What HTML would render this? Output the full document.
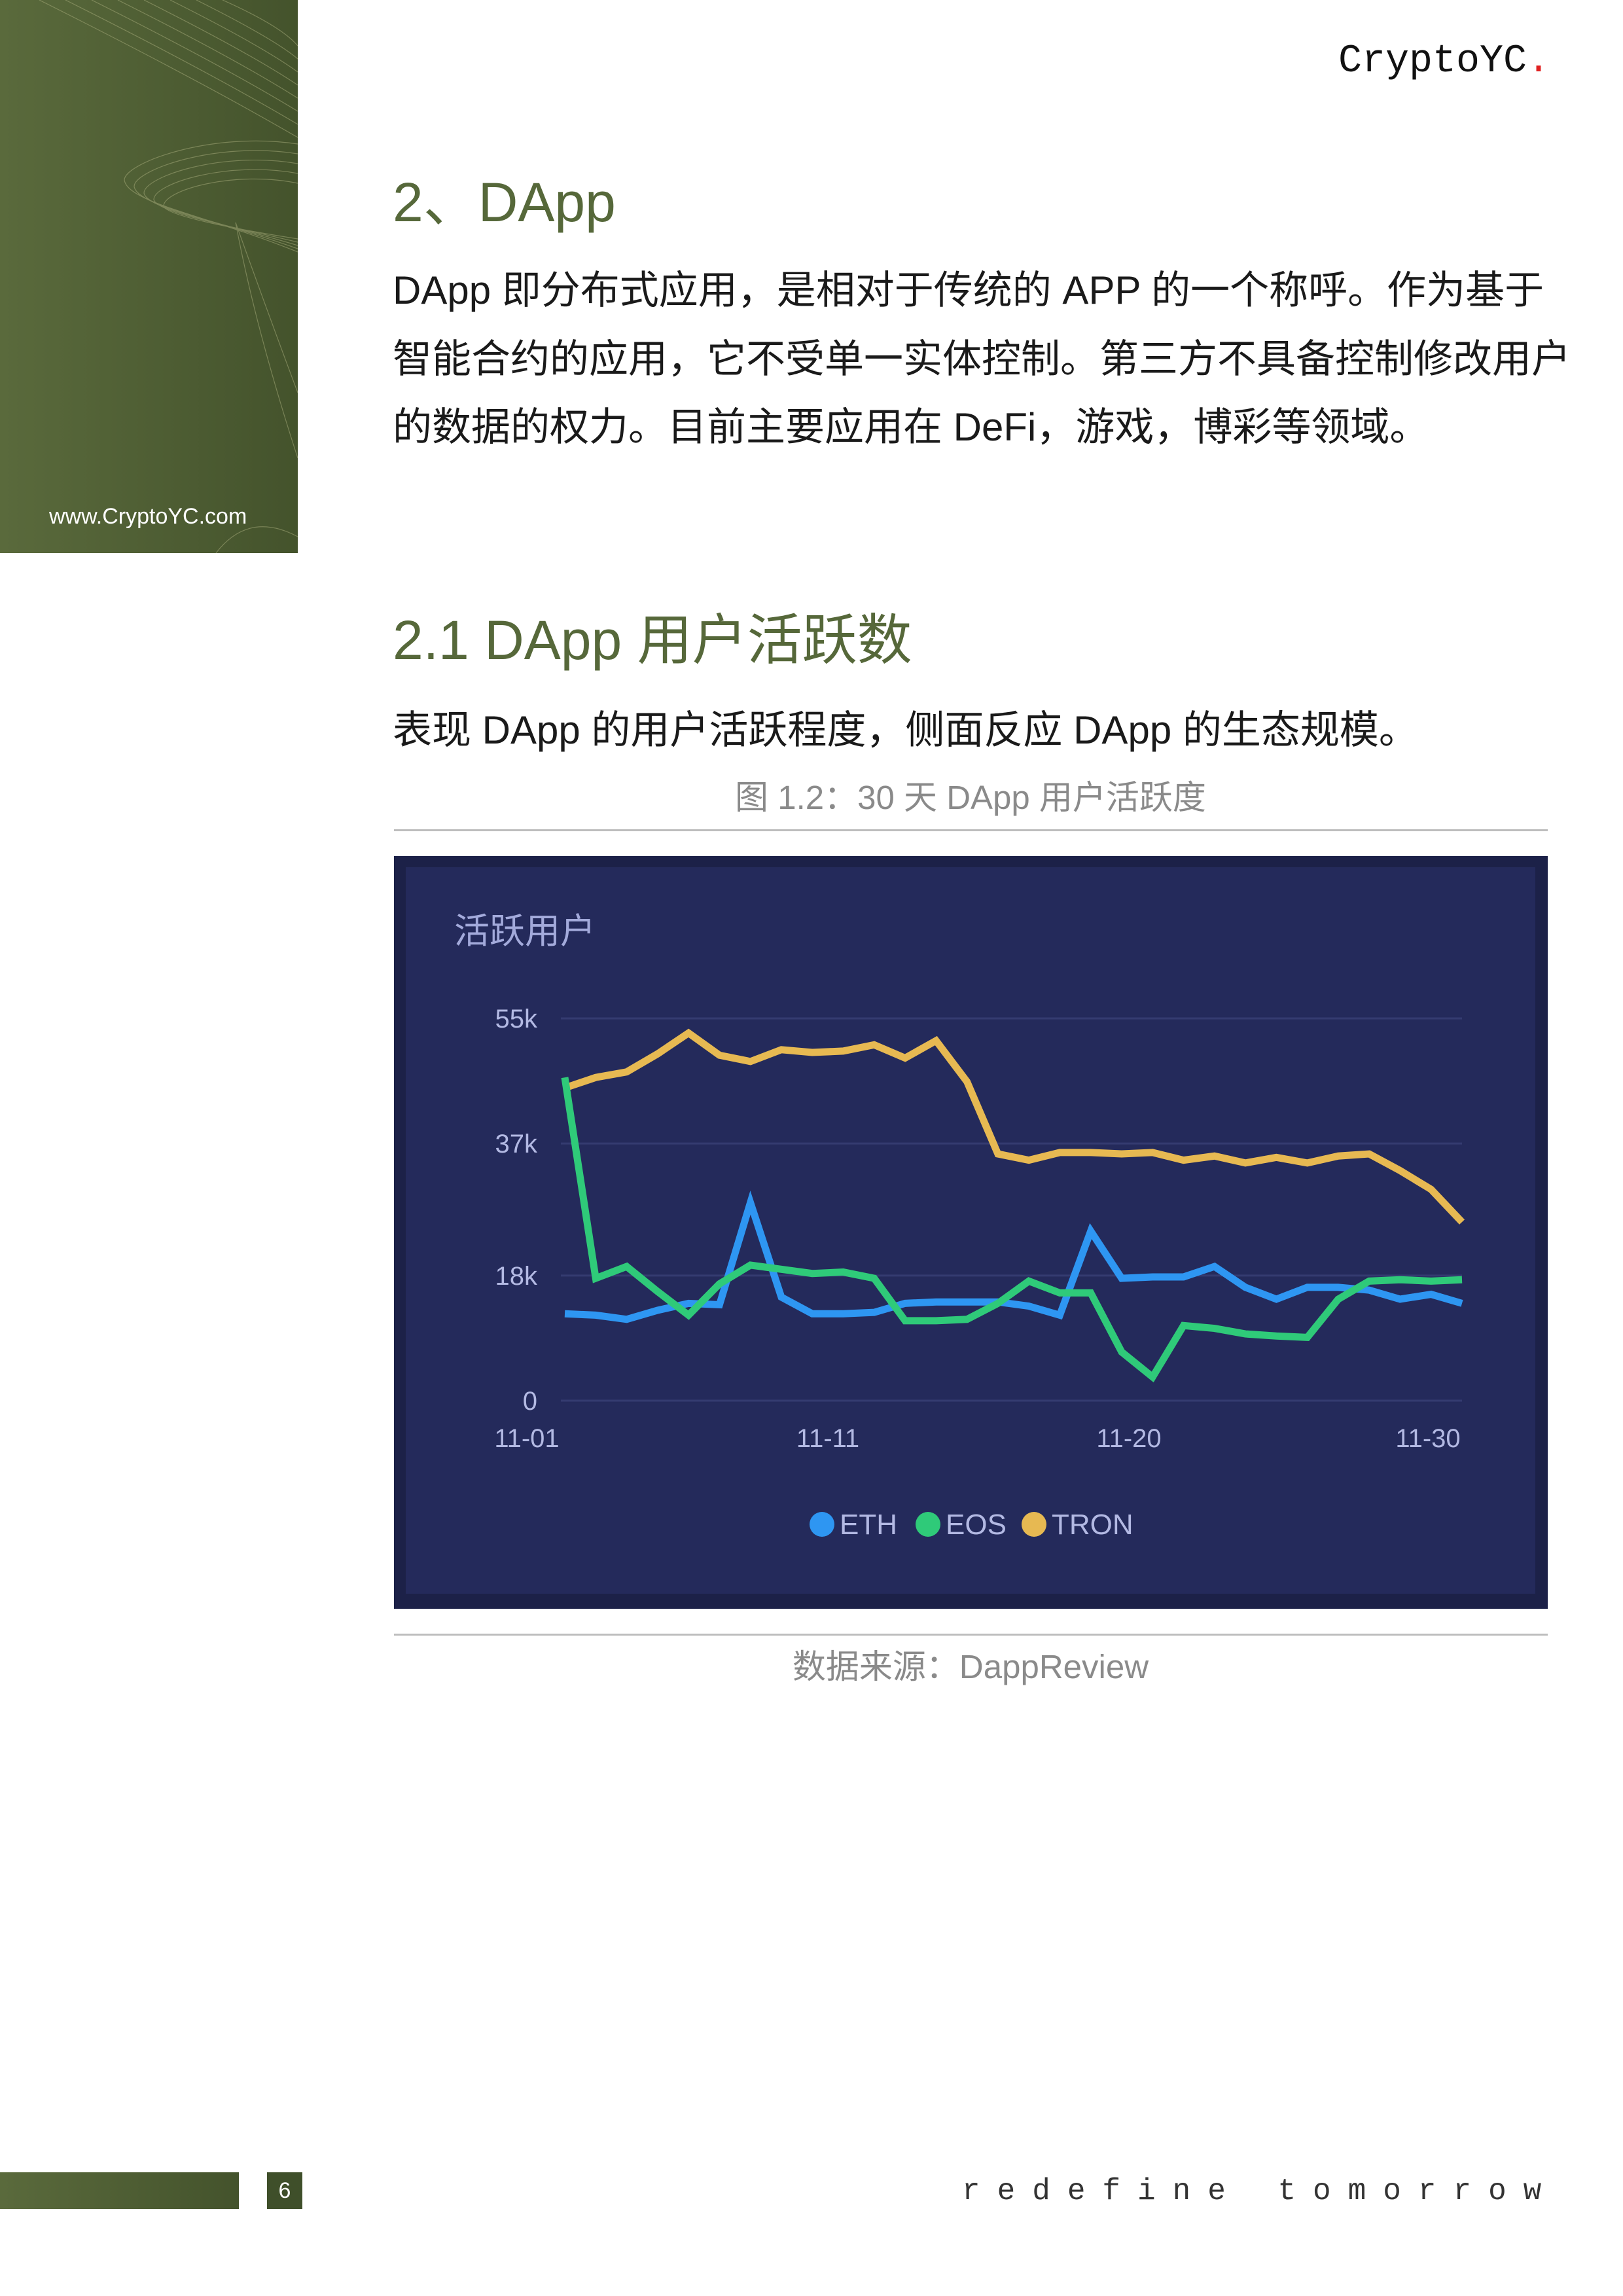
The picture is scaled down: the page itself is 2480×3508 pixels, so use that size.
<!DOCTYPE html>
<html><head><meta charset="utf-8">
<style>
body{margin:0;width:2480px;height:3508px;position:relative;background:#fff;overflow:hidden;font-family:"Liberation Sans","Noto Sans CJK SC",sans-serif}
.a{position:absolute;white-space:nowrap}
.h{color:#56683a;font-size:84px;line-height:1}
.p{color:#1a1a1a;font-size:60px;line-height:1}
</style></head><body>
<div class="a" style="left:0;top:0;width:455px;height:845px;background:linear-gradient(90deg,#5a6a3c,#44532c);overflow:hidden">
<svg width="455" height="845" style="position:absolute;left:0;top:0">
<g fill="none" stroke="#a3a878" stroke-width="1.2" opacity="0.55">
<path d="M60 0 Q300 120 455 210"/><path d="M100 0 Q320 110 455 190"/><path d="M140 0 Q340 100 455 170"/><path d="M180 0 Q360 90 455 150"/><path d="M220 0 Q380 80 455 130"/><path d="M260 0 Q400 70 455 110"/><path d="M300 0 Q420 60 455 90"/><path d="M340 0 Q430 40 455 70"/>
<path d="M455 220 C320 200 190 250 190 275 C195 310 320 330 455 385"/>
<path d="M455 235 C330 215 205 260 205 285 C210 315 330 335 455 380"/>
<path d="M455 250 C340 230 220 270 220 295 C225 320 340 340 455 375"/>
<path d="M455 265 C350 245 235 280 235 305 C240 325 350 345 455 370"/>
<path d="M455 280 C360 260 250 290 250 315 C255 330 360 350 455 365"/>
<path d="M360 340 Q390 500 455 700"/><path d="M360 340 Q410 480 455 600"/><path d="M455 820 Q380 780 330 845"/>
</g></svg>
<div class="a" style="left:75px;top:770px;color:#fff;font-size:34px">www.CryptoYC.com</div>
</div>
<div class="a" style="left:2045px;top:60px;font-family:'Liberation Mono',monospace;font-size:60px;color:#111">CryptoYC<span style="color:#e02020">.</span></div>
<div class="a h" style="left:600px;top:267px">2、DApp</div>
<div class="a p" style="left:600px;top:414px">DApp 即分布式应用，是相对于传统的 APP 的一个称呼。作为基于</div>
<div class="a p" style="left:600px;top:519px">智能合约的应用，它不受单一实体控制。第三方不具备控制修改用户</div>
<div class="a p" style="left:600px;top:623px">的数据的权力。目前主要应用在 DeFi，游戏，博彩等领域。</div>
<div class="a h" style="left:600px;top:936px">2.1 DApp 用户活跃数</div>
<div class="a p" style="left:600px;top:1086px">表现 DApp 的用户活跃程度，侧面反应 DApp 的生态规模。</div>
<div class="a" style="left:1483px;top:1177px;transform:translateX(-50%);color:#8a8a8a;font-size:51px">图 1.2：30 天 DApp 用户活跃度</div>
<div class="a" style="left:602px;top:1267px;width:1763px;height:3px;background:#bdbdbd"></div>
<div class="a" style="left:602px;top:2496px;width:1763px;height:3px;background:#bdbdbd"></div>
<div class="a" style="left:1483px;top:2505px;transform:translateX(-50%);color:#8a8a8a;font-size:51px">数据来源：DappReview</div>

<svg id="chart" class="a" style="left:0;top:0" width="2480" height="3508"></svg>

<div class="a" style="left:0;top:3319px;width:365px;height:56px;background:linear-gradient(90deg,#5a6a3c,#44532c)"></div>
<div class="a" style="left:408px;top:3319px;width:54px;height:56px;background:#3f4f2a;color:#fff;font-size:34px;text-align:center;line-height:56px">6</div>
<div class="a" style="left:1470px;top:3322px;font-family:'Liberation Mono',monospace;font-size:46px;color:#333;letter-spacing:26px">redefine tomorrow</div>

<script>
const categories = Array.from({length:30},(_,i)=>'11-'+String(i+1).padStart(2,'0'));
const tickLabels = ['11-01','11-11','11-20','11-30'];
const yTicks = [0,18,37,55];
const yTickLabels = ['0','18k','37k','55k'];
const eth = [12.5,12.3,11.7,13.0,14.0,13.8,28.5,14.9,12.5,12.5,12.7,14.0,14.2,14.2,14.2,13.6,12.3,24.4,17.6,17.8,17.8,19.3,16.3,14.6,16.3,16.3,15.9,14.6,15.3,14.0];
const eos = [46.5,17.6,19.3,15.7,12.3,16.8,19.5,18.9,18.3,18.5,17.6,11.5,11.5,11.7,14.0,17.2,15.5,15.5,7.0,3.4,10.8,10.4,9.6,9.3,9.1,14.6,17.2,17.4,17.2,17.4];
const tron = [45.0,46.5,47.3,49.9,52.9,49.7,48.8,50.5,50.1,50.3,51.2,49.3,51.8,45.9,35.5,34.6,35.7,35.7,35.5,35.7,34.6,35.2,34.2,35.0,34.2,35.2,35.5,33.1,30.4,25.7];

const NS='http://www.w3.org/2000/svg';
const svg=document.getElementById('chart');
function mk(t,a,parent){const e=document.createElementNS(NS,t);for(const k in a)e.setAttribute(k,a[k]);(parent||svg).appendChild(e);return e;}
const X0=863,X1=2234,Y0=2140,Y1=1556,YMAX=55;
const xs=i=>X0+(X1-X0)*i/(categories.length-1);
const ys=v=>Y0-(Y0-Y1)*v/YMAX;

let e=mk('rect',{x:602,y:1308,width:1763,height:1150,fill:'#1c2148'});


e=mk('rect',{x:620,y:1325,width:1726,height:1110,fill:'#242a5b'});


e=mk('text',{x:694,y:1441,fill:'#a3aadb','font-size':54,'font-family':'Liberation Sans, Noto Sans CJK SC, sans-serif'});e.textContent='活跃用户';



yTicks.forEach((v,i)=>{
  const g=mk('line',{x1:857,x2:2234,y1:ys(v),y2:ys(v),stroke:'#343b70','stroke-width':3});
  
  
  const t=mk('text',{x:821,y:ys(v)+14,fill:'#b3b9e3','font-size':40,'text-anchor':'end','font-family':'Liberation Sans, sans-serif'});t.textContent=yTickLabels[i];
  
  
});
const tickX=[805,1265,1725,2182];
tickLabels.forEach((l,i)=>{
  const t=mk('text',{x:tickX[i],y:2211,fill:'#b3b9e3','font-size':40,'text-anchor':'middle','font-family':'Liberation Sans, sans-serif'});t.textContent=l;
  
  
});
function line(data,color,name){
  const p=mk('polyline',{points:data.map((v,i)=>xs(i)+','+ys(v)).join(' '),fill:'none',stroke:color,'stroke-width':11,'stroke-linejoin':'miter','stroke-linecap':'butt'});
  
  
}
line(tron,'#e7b952','tron-line');
line(eth,'#2e96f2','eth-line');
line(eos,'#2fca79','eos-line');

const legend=[['ETH','#2e96f2',1256],['EOS','#2fca79',1418],['TRON','#e7b952',1580]];
legend.forEach(([n,c,x])=>{
  const g=mk('g',{});
  
  
  mk('circle',{cx:x,cy:2329,r:19,fill:c},g);
  const t=mk('text',{x:x+27,y:2344,fill:'#b3b9e3','font-size':44,'font-family':'Liberation Sans, sans-serif'},g);t.textContent=n;
});
</script>
</body></html>
